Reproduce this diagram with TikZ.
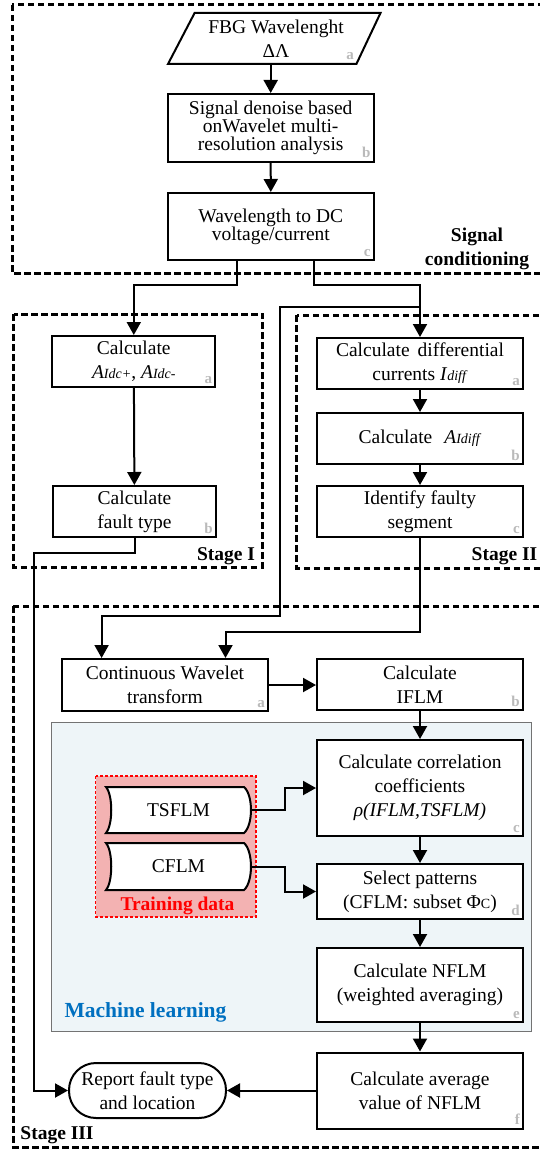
\documentclass[tikz,border=0pt]{standalone}
\usepackage{fontspec}
\setmainfont{Liberation Serif}
\usetikzlibrary{arrows.meta,calc}
\newcommand\smf[1]{{\fontsize{14}{14}\selectfont #1}}
\begin{document}
\begin{tikzpicture}[x=1pt,y=-1pt,
  box/.style={draw, line width=2pt, inner sep=0pt, align=center, font=\fontsize{19.5}{24}\selectfont},
  bx/.style 2 args={box, minimum width=#1, minimum height=#2},
  tight/.style={font=\fontsize{19.5}{18}\selectfont},
  arr/.style={line width=2pt, -{Triangle[length=13pt,width=14pt]}},
  stg/.style={line width=3pt, dash pattern=on 6.5pt off 3.5pt},
  lbl/.style={font=\fontsize{15}{15}\selectfont\bfseries, text=black!27, anchor=base east, inner sep=0pt},
  stgtxt/.style={font=\fontsize{19.5}{24}\selectfont\bfseries, align=center, inner sep=0pt},
  plain/.style={inner sep=0pt, align=center, font=\fontsize{19.5}{24}\selectfont},
]
\clip (0,0) rectangle (540,1150);
\fill[white] (0,0) rectangle (540,1150);

% stage frames
\draw[stg] (12,5) rectangle (560,273);
\draw[stg] (13.8,314) rectangle (262.7,567);
\draw[stg] (296.8,315) rectangle (560,568);
\draw[stg] (13,606) rectangle (560,1147);

% machine learning area
\draw[draw=black!55, line width=0.9pt, fill={rgb,255:red,238;green,245;blue,248}] (51.7,722) rectangle (531.3,1031);
% training data area
\draw[draw=red, line width=1.4pt, dash pattern=on 3pt off 2pt, fill={rgb,255:red,243;green,178;blue,178}] (95.7,776) rectangle (256,917);

% parallelogram
\draw[line width=2pt, fill=white] (194.6,13) -- (380.5,13) -- (356.4,64) -- (168,64) -- cycle;
% stored data shapes
\draw[line width=2pt, fill=white] (106,787) -- (244,787) .. controls (253.3,795) and (253.3,825) .. (244,833) -- (106,833) .. controls (113,825) and (113,795) .. (106,787) -- cycle;
\draw[line width=2pt, fill=white] (106,843) -- (244,843) .. controls (253.3,851) and (253.3,882) .. (244,890) -- (106,890) .. controls (113,882) and (113,851) .. (106,843) -- cycle;

% nodes: signal conditioning
\node[plain, minimum width=190, minimum height=51] (fbg) at (276,38.5) {FBG Wavelenght\\ΔΛ};
\node[bx={206}{68}, tight] (den) at (270.7,128) {Signal denoise based\\onWavelet multi-\\resolution analysis};
\node[bx={206}{67}, tight] (wdc) at (270.8,226.5) {Wavelength to DC\\voltage/current};
\node[stgtxt] (sc) at (477,249) {Signal\\conditioning};

% stage I
\node[bx={163}{51}] (s1a) at (133.8,361.5) {Calculate\\\textit{A}\smf{\textit{Idc+}}, \textit{A}\smf{\textit{Idc-}}};
\node[bx={163}{51}] (s1b) at (134.5,511.5) {Calculate\\fault type};
\node[stgtxt] (st1) at (226,556) {Stage I};

% stage II
\node[bx={206}{51}] (s2a) at (420,363.5) {Calculate\hspace{8pt}differential\\currents \textit{I}\smf{\textit{diff}}};
\node[bx={206}{51}] (s2b) at (420,438.5) {Calculate\hspace{12pt}\textit{A}\smf{\textit{Idiff}}};
\node[bx={206}{51}] (s2c) at (420,511.5) {Identify faulty\\segment};
\node[stgtxt] (st2) at (504.5,556) {Stage II};

% stage III
\node[bx={206}{52}] (cwt) at (165,685) {Continuous Wavelet\\transform};
\node[bx={206}{51}] (ifl) at (420,684.5) {Calculate\\IFLM};
\node[bx={206}{96}, fill=white] (cor) at (420,788) {Calculate correlation\\coefficients\\\textit{ρ(IFLM,TSFLM)}};
\node[bx={206}{55}, fill=white] (sel) at (420,891.5) {Select patterns\\(CFLM: subset Φ\smf{C})};
\node[bx={206}{74}, fill=white] (nfl) at (420,985) {Calculate NFLM\\(weighted averaging)};
\node[bx={206}{76}] (avg) at (420,1090.5) {Calculate average\\value of NFLM};
\node[bx={157}{55}, rounded corners=27pt] (rep) at (147.5,1090.5) {Report fault type\\and location};
\node[plain, minimum width=145, minimum height=46] (tsf) at (178.5,810) {TSFLM};
\node[plain, minimum width=145, minimum height=47] (cfl) at (178.5,866.5) {CFLM};
\node[stgtxt, text=red] (trn) at (177.5,906) {Training data};
\node[stgtxt, font=\fontsize{21.5}{24}\selectfont\bfseries, text={rgb,255:red,0;green,112;blue,192}] (mlt) at (145.5,1012) {Machine learning};
\node[stgtxt] (st3) at (57,1135) {Stage III};

% letter tags
\node[lbl] (ta1) at (354,60) {a};
\node[lbl] (ta2) at ($(den.south east)+(-4,-5)$) {b};
\node[lbl] (ta3) at ($(wdc.south east)+(-4,-5)$) {c};
\node[lbl] (tb1) at ($(s1a.south east)+(-4,-5)$) {a};
\node[lbl] (tb2) at ($(s1b.south east)+(-4,-5)$) {b};
\node[lbl] (tc1) at ($(s2a.south east)+(-4,-5)$) {a};
\node[lbl] (tc2) at ($(s2b.south east)+(-4,-5)$) {b};
\node[lbl] (tc3) at ($(s2c.south east)+(-4,-5)$) {c};
\node[lbl] (td1) at ($(cwt.south east)+(-4,-5)$) {a};
\node[lbl] (td2) at ($(ifl.south east)+(-4,-5)$) {b};
\node[lbl] (td3) at ($(cor.south east)+(-4,-5)$) {c};
\node[lbl] (td4) at ($(sel.south east)+(-4,-5)$) {d};
\node[lbl] (td5) at ($(nfl.south east)+(-4,-5)$) {e};
\node[lbl] (td6) at ($(avg.south east)+(-4,-5)$) {f};

% connectors
\coordinate (k1) at (133.8,285);
\coordinate (k2) at (420,285);
\coordinate (b1) at (420,307);
\coordinate (b2) at (279.6,616);
\coordinate (c1) at (225.5,632);
\coordinate (d1) at (34.4,553);

\draw[arr] (den.north |- fbg.south) -- (den.north);
\draw[arr] (den.south) -- (wdc.north);
\draw[arr] ([xshift=-33.8pt]wdc.south) |- (k1) -- (s1a.north);
\draw[arr] ([xshift=43.2pt]wdc.south) |- (k2) -- (s2a.north);
\draw[arr] (b1) -| (b2) -| ([xshift=-63.4pt]cwt.north);
\draw[arr] (s1a) -- (s1b);
\draw[arr] (s2a) -- (s2b);
\draw[arr] (s2b) -- (s2c);
\draw[arr] (s2c.south) |- (c1) -- (c1 |- cwt.north);
\draw[arr] (s1b.south) |- (d1) |- (rep.west);
\draw[arr] (cwt.east) -- (cwt.east -| ifl.west);
\draw[arr] (ifl) -- (cor);
\draw[arr] (cor) -- (sel);
\draw[arr] (sel) -- (nfl);
\draw[arr] (nfl) -- (avg);
\draw[arr] (avg.west) -- (rep.east);
\draw[arr] (tsf.east) -- ++(33.4,0) |- (cor.west);
\draw[arr] (cfl.east) -- ++(33.4,0) |- (sel.west);
\end{tikzpicture}
\end{document}
